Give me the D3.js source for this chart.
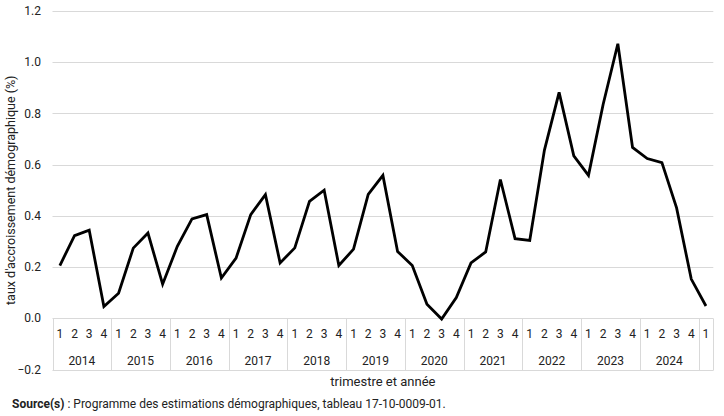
<!DOCTYPE html>
<html>
<head>
<meta charset="utf-8">
<script src="https://cdn.jsdelivr.net/npm/d3@7"></script>
<style>
  body { margin: 0; background: #fff; }
  text { font-family: Roboto, 'Liberation Sans', sans-serif; fill: #222; }
</style>
</head>
<body>
<div id="chart"></div>
<script>
const years = ['2014', '2015', '2016', '2017', '2018', '2019', '2020', '2021', '2022', '2023', '2024', '2025']
const quarterCount = [4, 4, 4, 4, 4, 4, 4, 4, 4, 4, 4, 1]
const rates = [
  0.206, 0.323, 0.344, 0.046,
  0.098, 0.274, 0.333, 0.133,
  0.281, 0.388, 0.405, 0.157,
  0.235, 0.405, 0.483, 0.216,
  0.275, 0.457, 0.500, 0.206,
  0.270, 0.484, 0.558, 0.261,
  0.206, 0.055, -0.003, 0.081,
  0.216, 0.259, 0.542, 0.311,
  0.304, 0.657, 0.882, 0.634,
  0.558, 0.836, 1.072, 0.667,
  0.624, 0.608, 0.431, 0.153,
  0.048
]
const yTicks = [-0.2, 0, 0.2, 0.4, 0.6, 0.8, 1.0, 1.2]

const width = 724
const height = 416
const margin = { left: 52.5, right: 10.7, top: 11, bottom: 46.5 }

const svg = d3.select('#chart').append('svg')
  .attr('width', width)
  .attr('height', height)

// one entry per quarter
const quarters = []
years.forEach((yr, i) => {
  for (let q = 1; q <= quarterCount[i]; q++) quarters.push({ year: yr, q, key: yr + 'Q' + q })
})
const points = quarters.map((d, i) => ({ ...d, value: rates[i] }))

const x = d3.scaleBand()
  .domain(quarters.map(d => d.key))
  .range([margin.left, width - margin.right])

const y = d3.scaleLinear()
  .domain([-0.2, 1.2])
  .range([height - margin.bottom, margin.top])

// gridlines
svg.append('g')
  .selectAll('line')
  .data(yTicks)
  .join('line')
    .attr('x1', margin.left)
    .attr('x2', width - margin.right)
    .attr('y1', d => Math.round(y(d)) + 0.5)
    .attr('y2', d => Math.round(y(d)) + 0.5)
    .attr('stroke', '#d9d9d9')
    .attr('stroke-width', 1)

// y tick labels
svg.append('g')
  .selectAll('text')
  .data(yTicks)
  .join('text')
    .attr('x', 41)
    .attr('y', d => y(d))
    .attr('dy', '0.35em')
    .attr('text-anchor', 'end')
    .attr('font-size', '12px')
    .text(d => d3.format('.1f')(d))

// category table: left/right edges and year separators
const y0 = Math.round(y(0)) + 0.5
const yBottom = Math.round(y(-0.2)) + 0.5
const bounds = [0]
quarterCount.reduce((acc, n) => { bounds.push(acc + n); return acc + n }, 0)
svg.append('g')
  .selectAll('line')
  .data(bounds)
  .join('line')
    .attr('x1', d => Math.round(margin.left + d * x.step()) + 0.5)
    .attr('x2', d => Math.round(margin.left + d * x.step()) + 0.5)
    .attr('y1', y0)
    .attr('y2', yBottom)
    .attr('stroke', '#d9d9d9')

// quarter labels
svg.append('g')
  .selectAll('text')
  .data(quarters)
  .join('text')
    .attr('x', d => x(d.key) + x.bandwidth() / 2)
    .attr('y', 334)
    .attr('dy', '0.35em')
    .attr('text-anchor', 'middle')
    .attr('font-size', '12px')
    .text(d => d.q)

// year labels (only for complete years)
let start = 0
const yearGroups = years.map((yr, i) => {
  const g = { year: yr, start, n: quarterCount[i] }
  start += quarterCount[i]
  return g
}).filter(d => d.n === 4)
svg.append('g')
  .selectAll('text')
  .data(yearGroups)
  .join('text')
    .attr('x', d => margin.left + (d.start + d.n / 2) * x.step())
    .attr('y', 361)
    .attr('dy', '0.35em')
    .attr('text-anchor', 'middle')
    .attr('font-size', '12px')
    .text(d => d.year)

// line
const line = d3.line()
  .x(d => x(d.key) + x.bandwidth() / 2)
  .y(d => y(d.value))

svg.append('path')
  .datum(points)
  .attr('d', line)
  .attr('fill', 'none')
  .attr('stroke', '#000')
  .attr('stroke-width', 2.8)
  .attr('stroke-linejoin', 'miter')

// axis titles
svg.append('text')
  .attr('transform', `translate(15, ${(y(-0.2) + y(1.2)) / 2}) rotate(-90)`)
  .attr('text-anchor', 'middle')
  .attr('font-size', '12.5px')
  .text("taux d'accroissement démographique (%)")

svg.append('text')
  .attr('x', (margin.left + width - margin.right) / 2)
  .attr('y', 386)
  .attr('text-anchor', 'middle')
  .attr('font-size', '13px')
  .text('trimestre et année')

// source
const src = svg.append('text')
  .attr('x', 12)
  .attr('y', 408)
  .attr('font-size', '12px')
src.append('tspan').attr('font-weight', 'bold').text('Source(s)')
src.append('tspan').text(' : Programme des estimations démographiques, tableau 17-10-0009-01.')
</script>
</body>
</html>
